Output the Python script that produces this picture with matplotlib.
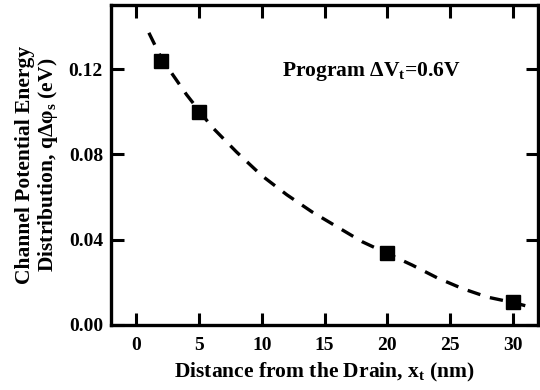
import matplotlib.pyplot as plt

plt.rcParams['font.family'] = 'Liberation Serif'
plt.rcParams['font.weight'] = 'bold'
plt.rcParams['mathtext.fontset'] = 'custom'
plt.rcParams['mathtext.rm'] = 'Liberation Serif:bold'
plt.rcParams['mathtext.it'] = 'Liberation Serif:bold'
plt.rcParams['mathtext.bf'] = 'Liberation Serif:bold'

# measured points
dist = [2, 5, 20, 30]
energy = [0.124, 0.100, 0.0335, 0.0107]

# dashed guide curve
curve_x = [1, 2, 4, 6, 8, 10, 12, 14, 16, 18, 20, 22, 24, 26, 28, 30, 31]
curve_y = [0.137, 0.125, 0.108, 0.093, 0.081, 0.070, 0.061, 0.053, 0.046,
           0.039, 0.0335, 0.028, 0.022, 0.017, 0.013, 0.0105, 0.009]

fig = plt.figure(figsize=(5.4, 3.9), dpi=100)
ax = fig.add_axes([0.206, 0.167, 0.79, 0.82])

ax.plot(curve_x, curve_y, color='black', lw=2.4, ls=(0, (4, 3)))
ax.plot(dist, energy, 's', color='black', ms=10)

ax.text(11.6, 0.119, r'Program $\Delta$V$_\mathbf{t}$=0.6V', fontsize=15.5,
        fontweight='bold', va='center', ha='left')

ax.set_xlim(-2, 32)
ax.set_ylim(0, 0.15)
ax.set_xticks([0, 5, 10, 15, 20, 25, 30])
ax.set_yticks([0.00, 0.04, 0.08, 0.12])
ax.set_yticklabels(['0.00', '0.04', '0.08', '0.12'])

ax.tick_params(direction='in', length=9, width=2.2, labelsize=14,
               top=True, right=True)
ax.tick_params(axis='x', pad=9)
ax.tick_params(axis='y', pad=6)
for s in ax.spines.values():
    s.set_linewidth(2.4)

ax.set_xlabel(r'Distance from the Drain, x$_\mathbf{t}$ (nm)', fontsize=15.5,
              fontweight='bold', labelpad=5)
ax.set_ylabel('Channel Potential Energy\nDistribution, qΔφ$_\\mathbf{s}$ (eV)',
              fontsize=15.5, fontweight='bold', labelpad=6, linespacing=1.1)

fig.savefig('out.png', dpi=100)
